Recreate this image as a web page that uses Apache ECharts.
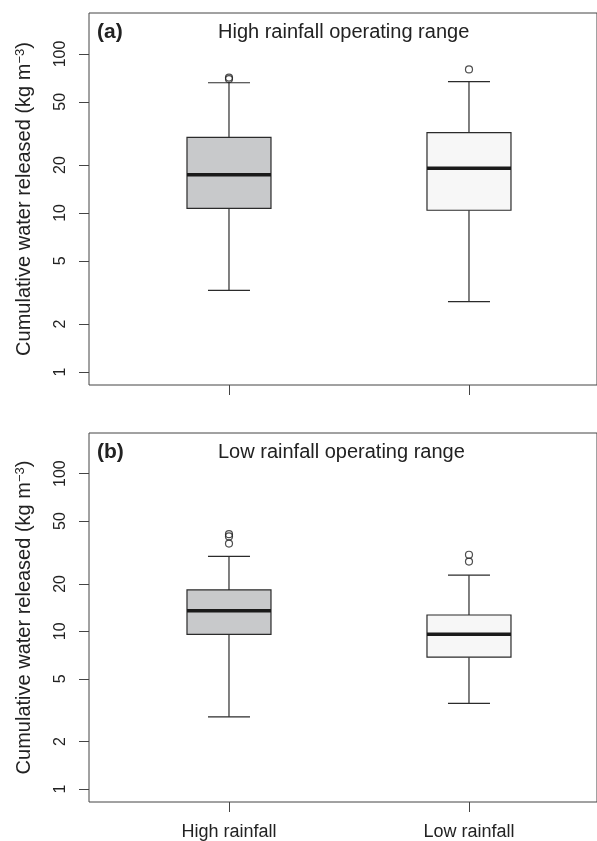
<!DOCTYPE html>
<html>
<head>
<meta charset="utf-8">
<title>Cumulative water released</title>
<script src="https://cdn.jsdelivr.net/npm/echarts@6/dist/echarts.min.js"></script>
<style>
  html, body { margin: 0; padding: 0; background: #fff; }
  #main { width: 597px; height: 841px; }
</style>
</head>
<body>
<div id="main"></div>
<script>
// categories on the x axis (positions 1 and 2)
var categories = ['High rainfall', 'Low rainfall'];
var catPos = [1, 2];
var panelTags = ['(a)', '(b)'];
var panelTitles = ['High rainfall operating range', 'Low rainfall operating range'];
var yTicks = [1, 2, 5, 10, 20, 50, 100];

// [lower whisker, Q1, median, Q3, upper whisker]
var aHigh = [3.26, 10.7, 17.4, 29.9, 65.9];
var aLow = [2.77, 10.4, 19.1, 32.0, 67.0];
var bHigh = [2.87, 9.58, 13.5, 18.3, 29.9];
var bLow = [3.49, 6.86, 9.6, 12.7, 22.7];

// outliers [position, value]
var aOutliers = [[1, 69.5], [1, 71], [2, 80]];
var bOutliers = [[1, 36], [1, 40], [1, 41.3], [2, 27.7], [2, 30.6]];

var fillColors = ['#c8c9cb', '#f7f7f7'];
var boxWidth = 0.35;
var font = 'Liberation Sans, Arial, sans-serif';

var chart = echarts.init(document.getElementById('main'));

function renderBox(params, api) {
  var x = api.value(0);
  var lo = api.coord([x, api.value(1)]);
  var q1 = api.coord([x, api.value(2)]);
  var med = api.coord([x, api.value(3)]);
  var q3 = api.coord([x, api.value(4)]);
  var hi = api.coord([x, api.value(5)]);
  var half = api.size([boxWidth, 0], [x, api.value(3)])[0] / 2;
  var cap = half / 2;
  var cx = lo[0];
  var line = { stroke: '#2b2b2b', lineWidth: 1.2 };
  return {
    type: 'group',
    children: [
      { type: 'line', shape: { x1: cx, y1: lo[1], x2: cx, y2: q1[1] }, style: line },
      { type: 'line', shape: { x1: cx, y1: q3[1], x2: cx, y2: hi[1] }, style: line },
      { type: 'line', shape: { x1: cx - cap, y1: lo[1], x2: cx + cap, y2: lo[1] }, style: line },
      { type: 'line', shape: { x1: cx - cap, y1: hi[1], x2: cx + cap, y2: hi[1] }, style: line },
      { type: 'rect', shape: { x: cx - half, y: q3[1], width: half * 2, height: q1[1] - q3[1] },
        style: { fill: api.visual('color'), stroke: '#2b2b2b', lineWidth: 1.2 } },
      { type: 'line', shape: { x1: cx - half, y1: med[1], x2: cx + half, y2: med[1] },
        style: { stroke: '#1a1a1a', lineWidth: 3.5 } }
    ]
  };
}

function boxData(high, low) {
  return [
    { value: [catPos[0]].concat(high), itemStyle: { color: fillColors[0] } },
    { value: [catPos[1]].concat(low), itemStyle: { color: fillColors[1] } }
  ];
}

var tops = [13, 433];
var grids = [], xAxes = [], yAxes = [], titles = [], series = [];
for (var i = 0; i < 2; i++) {
  grids.push({ left: 89, top: tops[i], width: 508, height: 372, show: true,
    borderColor: '#444', borderWidth: 1, backgroundColor: 'transparent' });
  xAxes.push({
    type: 'value', gridIndex: i, min: 0.4167, max: 2.5334,
    axisLine: { show: false }, splitLine: { show: false },
    axisTick: { show: true, length: 10, customValues: catPos, lineStyle: { color: '#444' } },
    axisLabel: { show: i === 1, customValues: catPos, margin: 21, fontSize: 18,
      fontFamily: font, color: '#222',
      formatter: function (v) { return categories[catPos.indexOf(v)] || ''; } }
  });
  yAxes.push({
    type: 'log', logBase: 10, gridIndex: i, min: 0.828, max: 181,
    axisLine: { show: false }, splitLine: { show: false },
    axisTick: { show: true, length: 10, customValues: yTicks, lineStyle: { color: '#444' } },
    axisLabel: { customValues: yTicks, rotate: 90, margin: 20, fontSize: 16,
      fontFamily: font, color: '#222' },
    name: 'Cumulative water released (kg m{sup|\u22123})',
    nameLocation: 'middle', nameGap: 55,
    nameTextStyle: { fontSize: 20, fontFamily: font, color: '#222',
      rich: { sup: { fontSize: 13, verticalAlign: 'top', fontFamily: font, color: '#222' } } }
  });
  titles.push({ text: panelTags[i], left: 97, top: tops[i] + 9, padding: 0,
    textStyle: { fontSize: 21, fontWeight: 'bold', fontFamily: font, color: '#222' } });
  titles.push({ text: panelTitles[i], left: 218, top: tops[i] + 9, padding: 0,
    textStyle: { fontSize: 20, fontWeight: 'normal', fontFamily: font, color: '#222' } });
}

series.push({ type: 'custom', xAxisIndex: 0, yAxisIndex: 0, renderItem: renderBox,
  encode: { x: 0, y: [1, 2, 3, 4, 5] }, data: boxData(aHigh, aLow) });
series.push({ type: 'custom', xAxisIndex: 1, yAxisIndex: 1, renderItem: renderBox,
  encode: { x: 0, y: [1, 2, 3, 4, 5] }, data: boxData(bHigh, bLow) });
series.push({ type: 'scatter', xAxisIndex: 0, yAxisIndex: 0, data: aOutliers, symbol: 'circle',
  symbolSize: 7, itemStyle: { color: 'transparent', borderColor: '#222', borderWidth: 1.2 } });
series.push({ type: 'scatter', xAxisIndex: 1, yAxisIndex: 1, data: bOutliers, symbol: 'circle',
  symbolSize: 7, itemStyle: { color: 'transparent', borderColor: '#222', borderWidth: 1.2 } });

chart.setOption({
  animation: false,
  title: titles,
  grid: grids,
  xAxis: xAxes,
  yAxis: yAxes,
  series: series
});
</script>
</body>
</html>
